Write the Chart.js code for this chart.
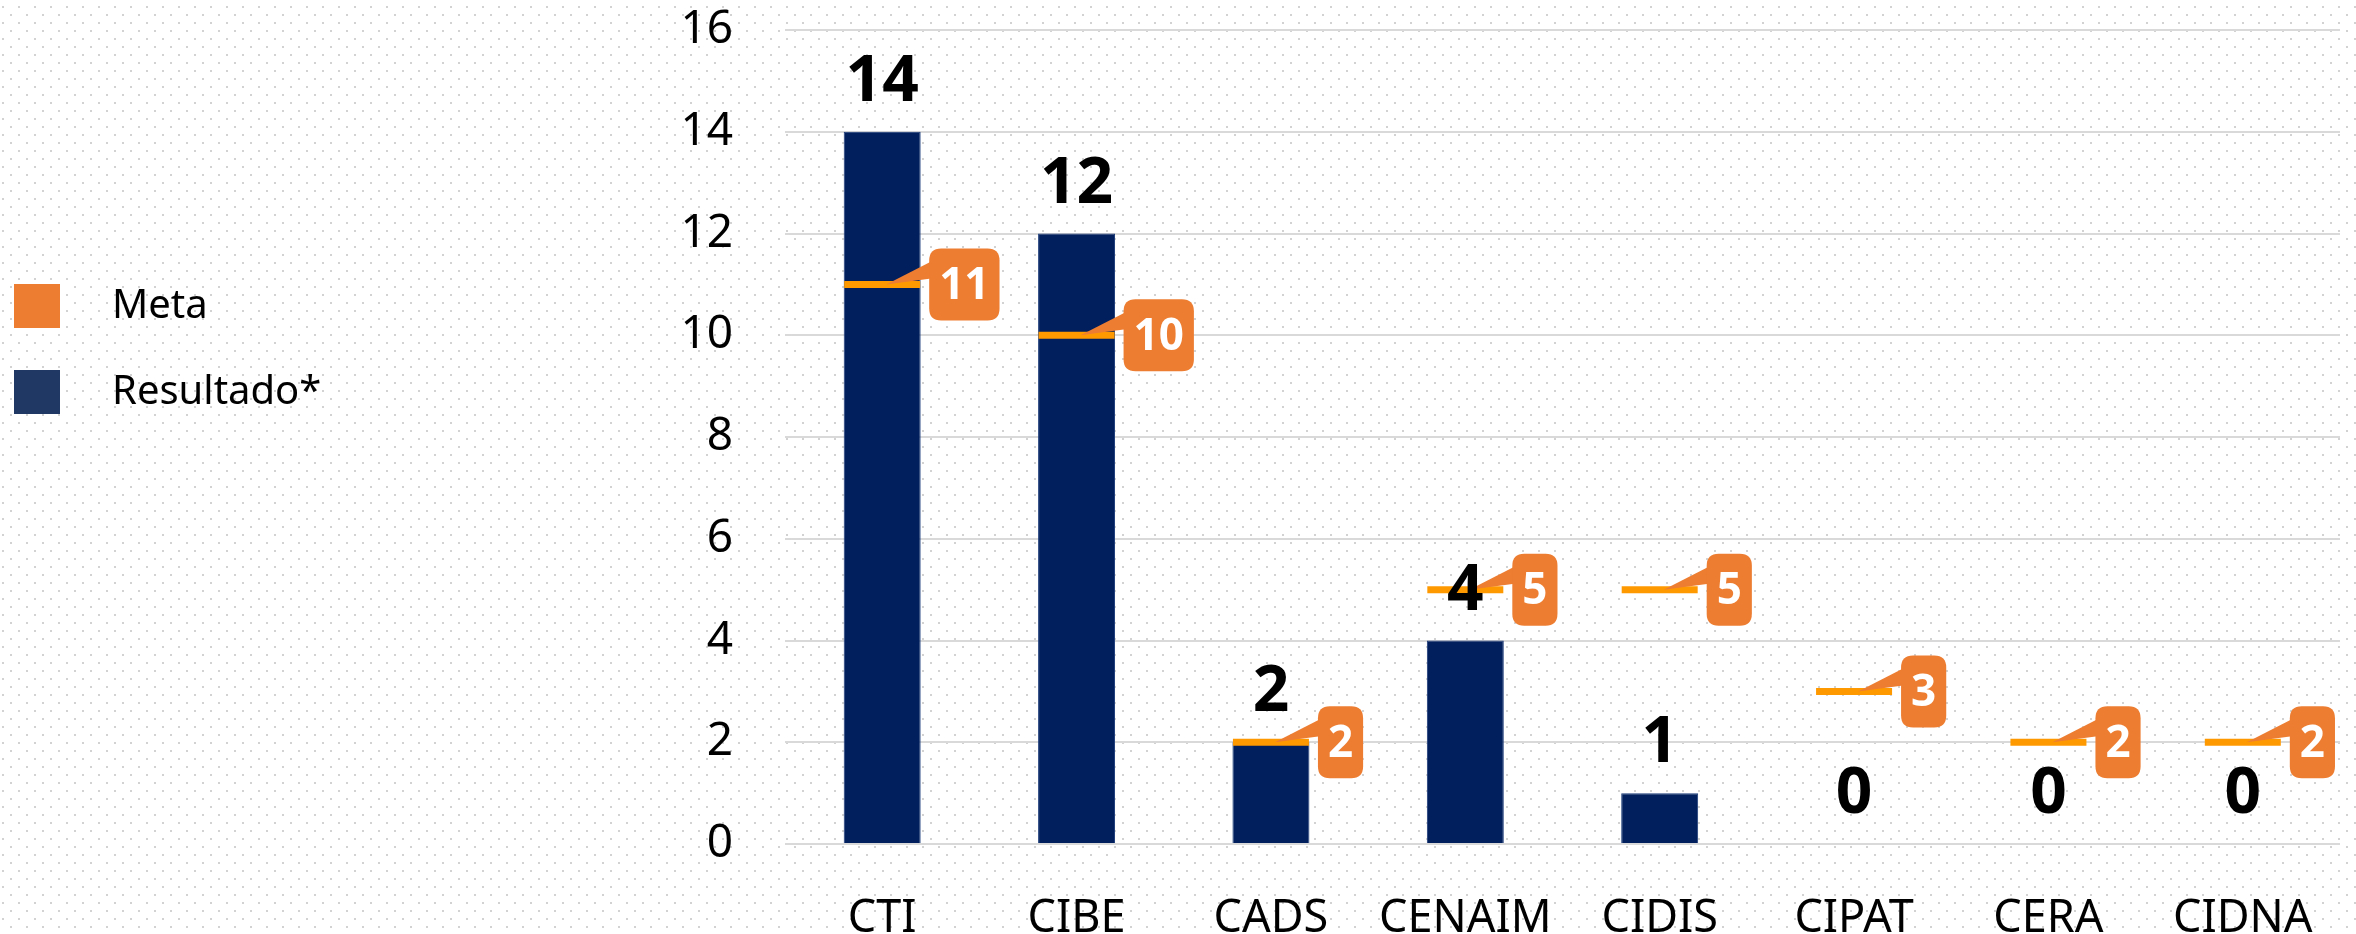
<!DOCTYPE html>
<html><head><meta charset="utf-8">
<script src="https://cdn.jsdelivr.net/npm/chart.js@4.4.1/dist/chart.umd.min.js"></script>
<style>html,body{margin:0;padding:0;background:#fff;overflow:hidden}canvas{display:block}</style>
</head><body>
<canvas id="c" width="2356" height="934"></canvas>
<script>
const categories = ['CTI', 'CIBE', 'CADS', 'CENAIM', 'CIDIS', 'CIPAT', 'CERA', 'CIDNA'];
const resultado = [14, 12, 2, 4, 1, 0, 0, 0];
const meta = [11, 10, 2, 5, 5, 3, 2, 2];
const yTicks = [0, 2, 4, 6, 8, 10, 12, 14, 16];
const seriesNames = ['Meta', 'Resultado*'];

const FONT = "'Noto Sans', 'Open Sans', sans-serif";
const BAR = '#001F5C';
const META_LINE = '#FF9900';
const CALLOUT = '#ED7D31';

const bgPlugin = {
  id: 'bg',
  beforeDraw(chart) {
    const ctx = chart.ctx, w = chart.width, h = chart.height;
    const p = document.createElement('canvas');
    p.width = 16; p.height = 16;
    const g = p.getContext('2d');
    g.fillStyle = '#d2d2d2';
    g.fillRect(2, 6, 2, 2);
    g.fillRect(10, 14, 2, 2);
    ctx.save();
    ctx.fillStyle = '#ffffff';
    ctx.fillRect(0, 0, w, h);
    ctx.fillStyle = ctx.createPattern(p, 'repeat');
    ctx.fillRect(0, 0, w, h);
    ctx.restore();
  }
};

function roundRect(ctx, x, y, w, h, r) {
  ctx.beginPath();
  ctx.moveTo(x + r, y);
  ctx.lineTo(x + w - r, y);
  ctx.quadraticCurveTo(x + w, y, x + w, y + r);
  ctx.lineTo(x + w, y + h - r);
  ctx.quadraticCurveTo(x + w, y + h, x + w - r, y + h);
  ctx.lineTo(x + r, y + h);
  ctx.quadraticCurveTo(x, y + h, x, y + h - r);
  ctx.lineTo(x, y + r);
  ctx.quadraticCurveTo(x, y, x + r, y);
  ctx.closePath();
}

const labelPlugin = {
  id: 'labels',
  afterDatasetsDraw(chart) {
    const ctx = chart.ctx;
    const xs = chart.scales.x, ys = chart.scales.y;
    ctx.save();
    // callouts for Meta
    ctx.font = 'bold 44px ' + FONT;
    meta.forEach((v, i) => {
      const x = xs.getPixelForValue(i);
      const y = ys.getPixelForValue(v);
      const txt = String(v);
      const tw = ctx.measureText(txt).width;
      const bw = tw + 20, bh = 72;
      const bx = x + 47, by = y - bh / 2;
      ctx.fillStyle = CALLOUT;
      ctx.beginPath();
      ctx.moveTo(x + 4, y);
      ctx.lineTo(bx + 2, by + 13);
      ctx.lineTo(bx + 2, by + 30);
      ctx.closePath();
      ctx.fill();
      roundRect(ctx, bx, by, bw, bh, 12);
      ctx.fill();
      ctx.fillStyle = '#ffffff';
      ctx.textAlign = 'center';
      ctx.textBaseline = 'middle';
      ctx.fillText(txt, bx + bw / 2, y + 2);
    });
    // bar value labels
    ctx.font = 'bold 64px ' + FONT;
    ctx.fillStyle = '#000000';
    ctx.textAlign = 'center';
    ctx.textBaseline = 'alphabetic';
    resultado.forEach((v, i) => {
      const x = xs.getPixelForValue(i);
      const y = ys.getPixelForValue(v);
      ctx.fillText(String(v), x, y - 31);
    });
    // legend
    const colors = [CALLOUT, '#1F3864'];
    const ly = [306, 392];
    ctx.font = '40px ' + FONT;
    ctx.textAlign = 'left';
    ctx.textBaseline = 'middle';
    seriesNames.forEach((n, k) => {
      ctx.fillStyle = colors[k];
      ctx.fillRect(14, ly[k] - 22, 46, 44);
      ctx.fillStyle = '#000000';
      ctx.fillText(n, 112, ly[k] + 1);
    });
    ctx.restore();
  }
};

new Chart(document.getElementById('c'), {
  data: {
    labels: categories,
    datasets: [
      {
        type: 'line',
        label: seriesNames[0],
        data: meta,
        showLine: false,
        pointStyle: 'line',
        pointRadius: 38,
        pointHoverRadius: 38,
        pointBorderColor: META_LINE,
        pointBorderWidth: 7,
        borderColor: META_LINE,
        order: 0
      },
      {
        type: 'bar',
        label: seriesNames[1],
        data: resultado,
        backgroundColor: BAR,
        borderColor: '#1a3a78',
        borderWidth: 1,
        barPercentage: 0.396,
        categoryPercentage: 1,
        order: 1
      }
    ]
  },
  options: {
    responsive: false,
    animation: false,
    devicePixelRatio: 1,
    layout: { autoPadding: false, padding: { left: 0, right: 16, top: 30, bottom: 0 } },
    plugins: { legend: { display: false }, tooltip: { enabled: false } },
    scales: {
      x: {
        grid: { display: false },
        border: { display: false },
        ticks: { font: { family: FONT, size: 45 }, color: '#000', padding: 40, maxRotation: 0 },
        afterFit(s) { s.height = 90; }
      },
      y: {
        min: 0, max: 16,
        afterBuildTicks(s) { s.ticks = yTicks.map(v => ({ value: v })); },
        grid: { color: '#d9d9d9', lineWidth: 2, drawTicks: false },
        border: { display: false },
        ticks: { font: { family: FONT, size: 46 }, color: '#000', padding: 52 },
        afterFit(s) { s.width = 785; s.paddingTop = 0; s.paddingBottom = 0; s.paddingLeft = 0; s.paddingRight = 0; }
      }
    }
  },
  plugins: [bgPlugin, labelPlugin]
});
</script>
</body></html>
